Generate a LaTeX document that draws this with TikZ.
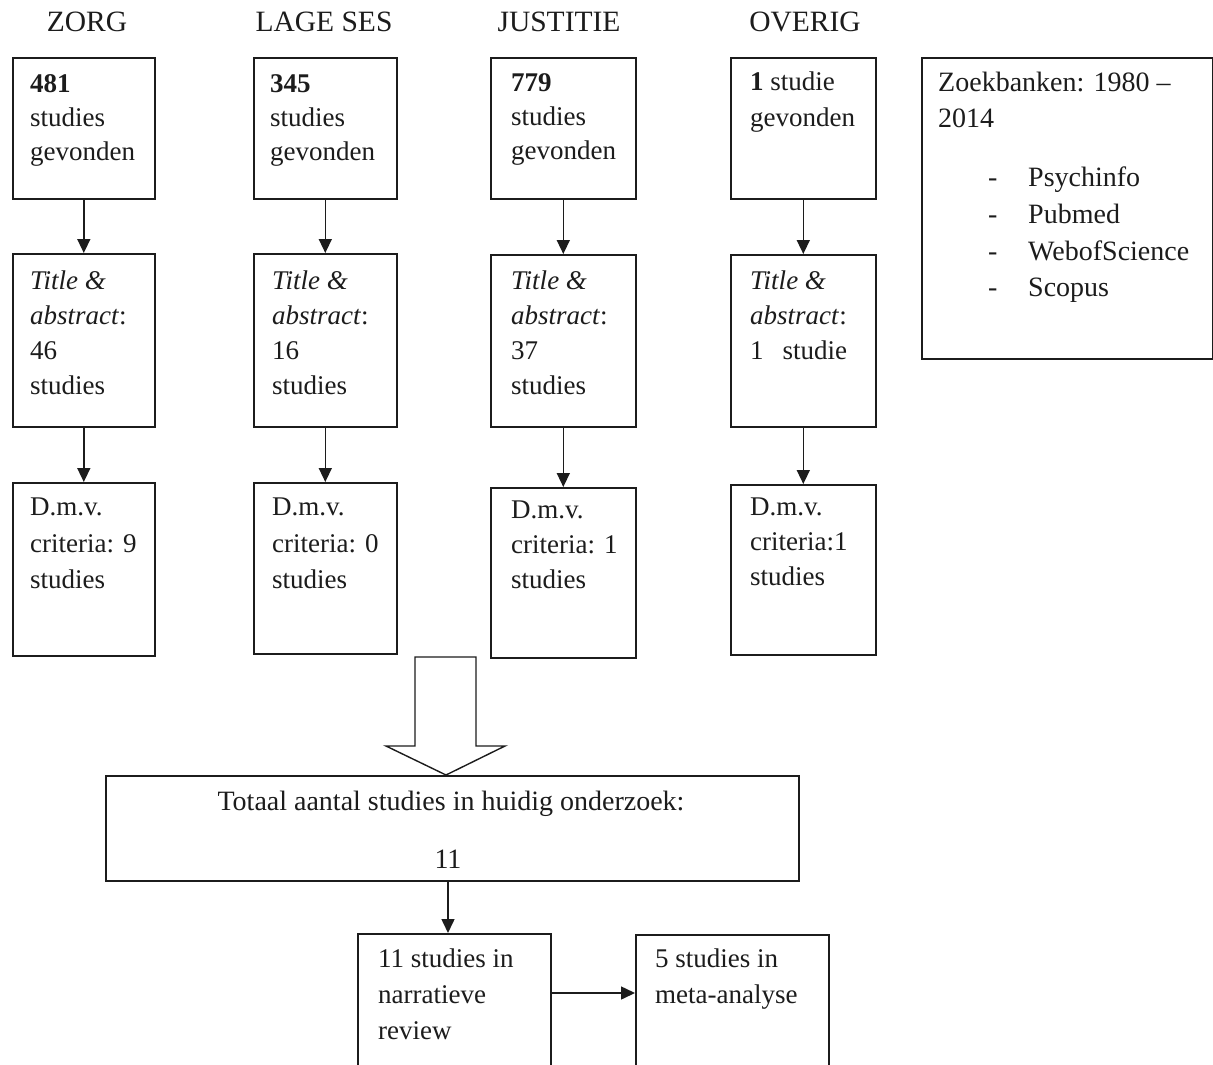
\documentclass[tikz,border=0pt]{standalone}
\usepackage{fontspec}
\setmainfont{Liberation Serif}
\usetikzlibrary{arrows.meta,calc}
\definecolor{ink}{RGB}{28,28,28}
\begin{document}
\begin{tikzpicture}[x=1pt,y=-1pt,
  box/.style={draw=ink, line width=1.6pt, rectangle, inner sep=0pt, anchor=north west},
  btxt/.style={font=\fontsize{27}{#1}\selectfont, text=ink, align=left, inner sep=0pt, anchor=north west, yshift=-8pt, execute at begin node={\rule{0pt}{25pt}}},
  btxt/.default=35,
  hdr/.style={font=\fontsize{29.5}{34}\selectfont, text=ink, inner sep=0pt, anchor=base},
  ttxt/.style={font=\fontsize{28}{34}\selectfont, text=ink, inner sep=0pt, anchor=base},
  arr/.style={draw=ink, line width=1.5pt, -{Triangle[length=14pt,width=13pt]}},
]
\clip (0,0) rectangle (1213,1065);
\fill[white] (0,0) rectangle (1213,1065);
\newcommand\bx[5]{\node[box, minimum width={#4-#2}, minimum height={#5-#3}] (#1) at (#2,#3) {};}

% headers
\node[hdr] (h1) at (87,32) {ZORG};
\node[hdr] (h2) at (324,32) {LAGE SES};
\node[hdr] (h3) at (559,32) {JUSTITIE};
\node[hdr] (h4) at (805,32) {OVERIG};

% column boxes
\bx{a1}{12}{57}{154}{198}
\bx{a2}{12}{253}{154}{426}
\bx{a3}{12}{482}{154}{655}
\bx{b1}{253}{57}{396}{198}
\bx{b2}{253}{253}{396}{426}
\bx{b3}{253}{482}{396}{653}
\bx{c1}{490}{57}{635}{198}
\bx{c2}{490}{254}{635}{426}
\bx{c3}{490}{487}{635}{657}
\bx{d1}{730}{57}{875}{198}
\bx{d2}{730}{254}{875}{426}
\bx{d3}{730}{484}{875}{654}

% texts row 1
\node[btxt=34] (ta1) at (30,66) {\textbf{481}\\studies\\gevonden};
\node[btxt=34] (tb1) at (270,66) {\textbf{345}\\studies\\gevonden};
\node[btxt=34] (tc1) at (511,65) {\textbf{779}\\studies\\gevonden};
\node[btxt=36] (td1) at (750,64) {\textbf{1} studie\\gevonden};

% texts row 2
\node[btxt=35] (ta2) at (30,263) {\textit{Title \&}\\\textit{abstract}:\\46\\studies};
\node[btxt=35] (tb2) at (272,263) {\textit{Title \&}\\\textit{abstract}:\\16\\studies};
\node[btxt=35] (tc2) at (511,263) {\textit{Title \&}\\\textit{abstract}:\\37\\studies};
\node[btxt=35] (td2) at (750,263) {\textit{Title \&}\\\textit{abstract}:\\1\hspace{19pt}studie};

% texts row 3
\node[btxt=36.5] (ta3) at (30,490) {D.m.v.\\criteria: 9\\studies};
\node[btxt=36.5] (tb3) at (272,490) {D.m.v.\\criteria: 0\\studies};
\node[btxt=35] (tc3) at (511,493) {D.m.v.\\criteria: 1\\studies};
\node[btxt=35] (td3) at (750,490) {D.m.v.\\criteria:1\\studies};

% arrows in columns
\draw[arr] (a1.south) -- (a2.north);
\draw[arr] (a2.south) -- (a3.north);
\draw[arr] (b1.south) -- (b2.north);
\draw[arr] (b2.south) -- (b3.north);
\draw[arr] (c1.south) -- (c2.north);
\draw[arr] (c2.south) -- (c3.north);
\draw[arr] (d1.south) -- (d2.north);
\draw[arr] (d2.south) -- (d3.north);

% Zoekbanken box
\bx{zk}{921}{57}{1212}{358}
\node[btxt=36, font=\fontsize{28}{36}\selectfont, yshift=1pt] (zkt) at (938,65) {Zoekbanken: 1980 --\\2014};
\node[inner sep=0pt, anchor=north west, text=ink, font=\fontsize{28}{36.7}\selectfont] (zkl) at (988,161)
  {\begin{tabular}{@{}l@{\hspace{30.7pt}}l@{}}
   - & Psychinfo\\
   - & Pubmed\\
   - & WebofScience\\
   - & Scopus
   \end{tabular}};

% total box
\bx{tot}{105}{775}{798}{880}
\node[ttxt] (tt1) at (451,810) {Totaal aantal studies in huidig onderzoek:};
\node[ttxt] (tt2) at (448,868) {11};

% hollow block arrow
\draw[draw=ink, line width=1.4pt, fill=white, line join=miter]
  (415,657) -- (476,657) -- (476,746) -- (505,746) -- (446,775) -- (386,746) -- (415,746) -- cycle;

% bottom boxes
\bx{nar}{357}{933}{550}{1100}
\bx{met}{635}{934}{828}{1100}
\node[btxt=36] (tn) at (378,941) {11 studies in\\narratieve\\review};
\node[btxt=36] (tm) at (655,941) {5 studies in\\meta-analyse};

\draw[arr] (tot.south -| 448,0) -- (448,0 |- nar.north);
\draw[arr] ([yshift=-60pt]nar.north east) -- ([yshift=-60pt]nar.north east -| met.west);
\end{tikzpicture}
\end{document}
